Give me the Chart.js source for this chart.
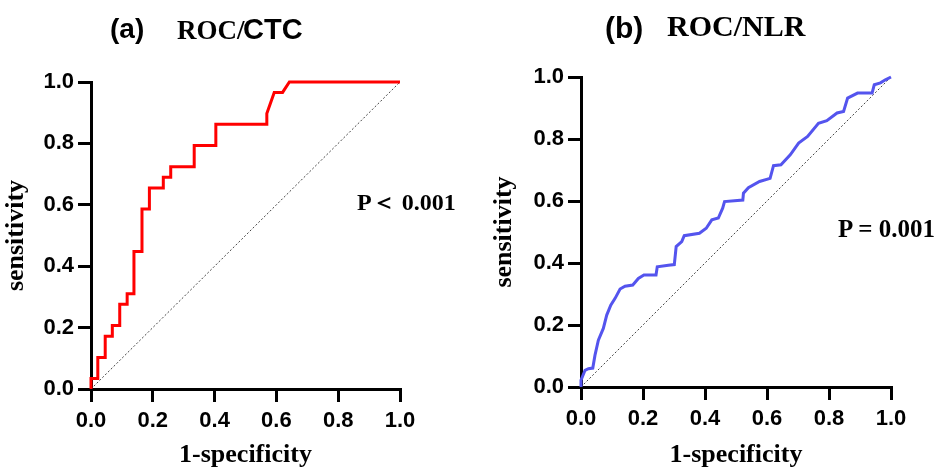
<!DOCTYPE html>
<html lang="en">
<head>
<meta charset="UTF-8">
<title>ROC/CTC and ROC/NLR</title>
<script src="https://cdn.jsdelivr.net/npm/chart.js"></script>
<style>
  body { margin: 0; background: #fff; }
  #wrap { position: relative; width: 939px; height: 471px; overflow: hidden; }
  canvas { position: absolute; top: 0; }
  .lbl { position: absolute; white-space: pre; line-height: 1; font-weight: bold; color: #000; }
  .sans { font-family: Arial, 'Liberation Sans', sans-serif; }
  .serif { font-family: 'Times New Roman', 'Liberation Serif', serif; }
</style>
</head>
<body>
<div id="wrap">
  <canvas id="ctcChart" width="470" height="471" style="left:0"></canvas>
  <canvas id="nlrChart" width="469" height="471" style="left:470px"></canvas>

  <span class="lbl sans" style="left:110px; top:15px; font-size:28px">(a)</span>
  <span class="lbl serif" style="left:177px; top:17px; font-size:27px">ROC/</span>
  <span class="lbl sans" style="left:243px; top:15px; font-size:29px">CTC</span>
  <span class="lbl serif" style="left:357px; top:190px; font-size:24px">P＜ 0.001</span>

  <span class="lbl sans" style="left:605px; top:13px; font-size:30px">(b)</span>
  <span class="lbl serif" style="left:667px; top:11px; font-size:30px">ROC/NLR</span>
  <span class="lbl serif" style="left:838px; top:216px; font-size:25px">P = 0.001</span>
</div>

<script>
    // ROC vertices (1-specificity, sensitivity)
    const ctcFpr = [0, 0, 0.022, 0.022, 0.046, 0.046, 0.069, 0.069, 0.093, 0.093, 0.117, 0.117,
                    0.139, 0.139, 0.165, 0.165, 0.189, 0.189, 0.234, 0.234, 0.258, 0.258,
                    0.334, 0.334, 0.404, 0.404, 0.569, 0.569, 0.593, 0.62, 0.642, 1.0];
    const ctcTpr = [0, 0.034, 0.034, 0.103, 0.103, 0.172, 0.172, 0.207, 0.207, 0.276, 0.276,
                    0.310, 0.310, 0.448, 0.448, 0.586, 0.586, 0.655, 0.655, 0.690, 0.690,
                    0.724, 0.724, 0.793, 0.793, 0.862, 0.862, 0.897, 0.966, 0.966, 1.0, 1.0];

    const nlrFpr = [0, 0, 0.013, 0.024, 0.038, 0.045, 0.056, 0.072, 0.083, 0.096,
                    0.110, 0.126, 0.142, 0.167, 0.185, 0.203, 0.242, 0.246, 0.282, 0.301,
                    0.307, 0.325, 0.333, 0.382, 0.404, 0.422, 0.443, 0.457, 0.463, 0.522,
                    0.524, 0.540, 0.576, 0.610, 0.621, 0.645, 0.675, 0.702, 0.731, 0.766,
                    0.793, 0.826, 0.847, 0.860, 0.892, 0.939, 0.946, 0.966, 0.982, 1.0];
    const nlrTpr = [0, 0.022, 0.054, 0.059, 0.061, 0.102, 0.151, 0.189, 0.232, 0.264,
                    0.286, 0.316, 0.325, 0.329, 0.350, 0.361, 0.361, 0.388, 0.393, 0.395,
                    0.453, 0.469, 0.488, 0.496, 0.512, 0.539, 0.545, 0.577, 0.598, 0.603,
                    0.625, 0.643, 0.663, 0.673, 0.714, 0.717, 0.749, 0.787, 0.808, 0.851,
                    0.859, 0.884, 0.889, 0.932, 0.948, 0.948, 0.975, 0.981, 0.991, 1.0];

    // reference (chance) line
    const refX = [0, 1];
    const refY = [0, 1];

    const tickLabels = ['0.0', '0.2', '0.4', '0.6', '0.8', '1.0'];

    const tickFont = { family: "Arial, 'Liberation Sans', sans-serif", size: 22, weight: 'bold' };
    const titleFont = { family: "'Times New Roman', 'Liberation Serif', serif", size: 26, weight: 'bold' };

    function toPoints(xs, ys) {
        return xs.map((x, i) => ({ x: x, y: ys[i] }));
    }

    function axis(title, titlePad, fit) {
        return {
            type: 'linear',
            min: 0,
            max: 1,
            afterFit: fit,
            ticks: {
                stepSize: 0.2,
                autoSkip: false,
                maxRotation: 0,
                color: '#000',
                font: tickFont,
                padding: 4,
                callback: (v) => tickLabels[Math.round(v * 5)]
            },
            grid: { drawOnChartArea: false, drawTicks: true, tickLength: 13, color: '#000', lineWidth: 3 },
            border: { color: '#000', width: 3 },
            title: { display: true, text: title, color: '#000', font: titleFont, padding: titlePad }
        };
    }

    function rocChart(id, fpr, tpr, color, lay) {
        const xAxis = axis('1-specificity', { top: 0, bottom: 0 }, (s) => { s.height = lay.xh; });
        xAxis.ticks.padding = 6;
        const yAxis = axis('sensitivity', { top: lay.yTitle, bottom: 0 }, (s) => { s.width = lay.yw; });

        return new Chart(document.getElementById(id), {
            type: 'scatter',
            data: {
                datasets: [
                    {
                        data: toPoints(fpr, tpr),
                        showLine: true,
                        borderColor: color,
                        borderWidth: 3,
                        pointRadius: 0,
                        tension: 0,
                        clip: 6
                    },
                    {
                        data: toPoints(refX, refY),
                        showLine: true,
                        borderColor: '#444',
                        borderWidth: 1,
                        borderDash: [2, 2],
                        pointRadius: 0
                    }
                ]
            },
            options: {
                responsive: false,
                animation: false,
                layout: { padding: { left: 0, top: lay.top, right: lay.right, bottom: 0 } },
                plugins: { legend: { display: false }, tooltip: { enabled: false } },
                scales: { x: xAxis, y: yAxis }
            }
        });
    }

    rocChart('ctcChart', ctcFpr, ctcTpr, '#ff0000', { yw: 91, xh: 82, top: 82, right: 70, yTitle: 1 });
    rocChart('nlrChart', nlrFpr, nlrTpr, '#5454ee', { yw: 111, xh: 84, top: 77, right: 48, yTitle: 19 });
</script>
</body>
</html>
